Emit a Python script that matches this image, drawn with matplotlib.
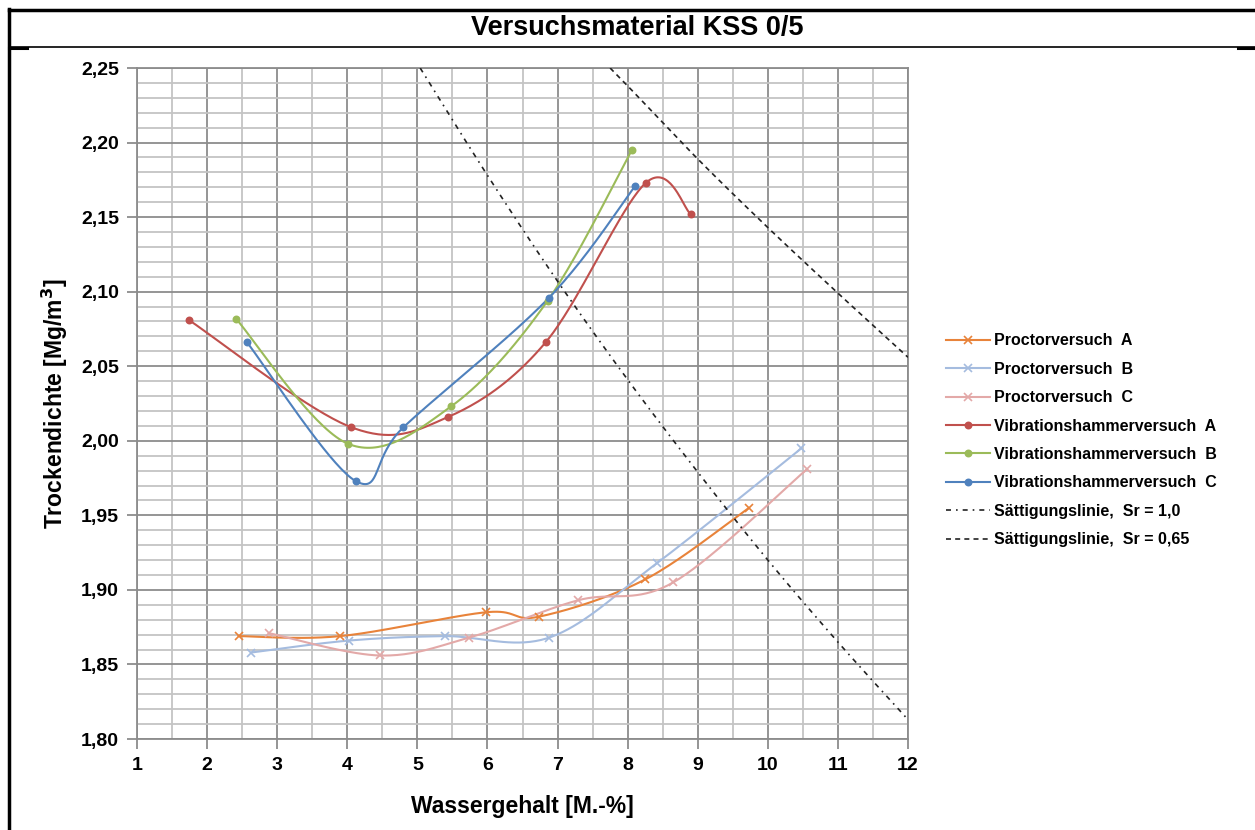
import numpy as np
import matplotlib
matplotlib.use("Agg")
import matplotlib.pyplot as plt
from matplotlib.lines import Line2D
from matplotlib.ticker import MultipleLocator, FuncFormatter

plt.rcParams['font.family'] = ['Liberation Sans', 'DejaVu Sans']
plt.rcParams['font.weight'] = 'bold'

# --- measured data: water content [M.-%] and dry density [Mg/m3] ---
proctor_a_w = [2.45, 3.90, 5.98, 6.73, 8.25, 9.73]
proctor_a_rho = [1.869, 1.869, 1.885, 1.882, 1.907, 1.955]

proctor_b_w = [2.63, 4.02, 5.39, 6.88, 8.42, 10.48]
proctor_b_rho = [1.858, 1.866, 1.869, 1.868, 1.918, 1.995]

proctor_c_w = [2.88, 4.47, 5.74, 7.29, 8.65, 10.56]
proctor_c_rho = [1.871, 1.856, 1.868, 1.893, 1.905, 1.981]

vib_a_w = [1.74, 4.06, 5.44, 6.83, 8.26, 8.90]
vib_a_rho = [2.081, 2.009, 2.016, 2.066, 2.173, 2.152]

vib_b_w = [2.41, 4.01, 5.48, 6.86, 8.06]
vib_b_rho = [2.082, 1.998, 2.023, 2.094, 2.195]

vib_c_w = [2.57, 4.12, 4.80, 6.88, 8.11]
vib_c_rho = [2.066, 1.973, 2.009, 2.096, 2.171]

# saturation lines
sat100_w = [5.04, 6, 7, 8, 9, 10, 11, 12]
sat100_rho = [2.250, 2.178, 2.107, 2.041, 1.979, 1.920, 1.865, 1.813]

sat065_w = [7.75, 8, 9, 10, 11, 12]
sat065_rho = [2.250, 2.238, 2.189, 2.143, 2.099, 2.056]

labels = [
    "Proctorversuch  A", "Proctorversuch  B", "Proctorversuch  C",
    "Vibrationshammerversuch  A", "Vibrationshammerversuch  B",
    "Vibrationshammerversuch  C",
    "Sättigungslinie,  Sr = 1,0", "Sättigungslinie,  Sr = 0,65",
]


def smooth(x, y, n=40):
    """Catmull-Rom style smoothed line through the given points."""
    p = np.column_stack([x, y]).astype(float)
    if len(p) < 3:
        return p[:, 0], p[:, 1]
    ext = np.vstack([p[0], p, p[-1]])
    out = []
    t = np.linspace(0, 1, n)[:, None]
    for i in range(1, len(ext) - 2):
        p0, p1, p2, p3 = ext[i - 1], ext[i], ext[i + 1], ext[i + 2]
        c1 = p1 + (p2 - p0) / 6.0
        c2 = p2 - (p3 - p1) / 6.0
        seg = ((1 - t) ** 3) * p1 + 3 * ((1 - t) ** 2) * t * c1 \
            + 3 * (1 - t) * t ** 2 * c2 + t ** 3 * p2
        out.append(seg if i == 1 else seg[1:])
    s = np.vstack(out)
    return s[:, 0], s[:, 1]


W, H = 1255, 830
fig = plt.figure(figsize=(W / 100, H / 100), dpi=100)
ax = fig.add_axes([137 / W, 1 - 739 / H, (908 - 137) / W, (739 - 68) / H])

ax.set_xlim(1, 12)
ax.set_ylim(1.80, 2.25)

ax.xaxis.set_major_locator(MultipleLocator(1))
ax.xaxis.set_minor_locator(MultipleLocator(0.5))
ax.yaxis.set_major_locator(MultipleLocator(0.05))
ax.yaxis.set_minor_locator(MultipleLocator(0.01))
ax.yaxis.set_major_formatter(FuncFormatter(lambda v, _: f"{v:.2f}".replace('.', ',')))
ax.xaxis.set_major_formatter(FuncFormatter(lambda v, _: f"{v:.0f}"))

ax.grid(which='major', color='#8c8c8c', linewidth=1.3)
ax.grid(which='minor', color='#c4c4c4', linewidth=1.3)
ax.set_axisbelow(True)
for s in ax.spines.values():
    s.set_color('#8c8c8c')
    s.set_linewidth(1.3)
ax.tick_params(which='major', direction='out', length=7, width=1.3, color='#8c8c8c',
               labelsize=14, pad=6)
ax.tick_params(which='minor', length=0)
for lab in ax.get_xticklabels() + ax.get_yticklabels():
    lab.set_fontweight('bold')

series = [
    (proctor_a_w, proctor_a_rho, '#E8833A', 'x', 6),
    (proctor_b_w, proctor_b_rho, '#A5BCDF', 'x', 6),
    (proctor_c_w, proctor_c_rho, '#E3A9A8', 'x', 6),
    (vib_a_w, vib_a_rho, '#C0504D', 'o', 4.5),
    (vib_b_w, vib_b_rho, '#9BBB59', 'o', 4.5),
    (vib_c_w, vib_c_rho, '#4F81BD', 'o', 4.5),
]
handles = []
for (wx, ry, col, mk, ms), lab in zip(series, labels[:6]):
    sx, sy = smooth(wx, ry)
    ax.plot(sx, sy, color=col, linewidth=1.5, zorder=3)
    ax.plot(wx, ry, linestyle='none', marker=mk, color=col, markersize=ms,
            markeredgewidth=1.2, zorder=4)
    handles.append(Line2D([], [], color=col, linewidth=1.5, marker=mk,
                          markersize=ms, markeredgewidth=1.2))

sx, sy = smooth(sat100_w, sat100_rho)
ax.plot(sx, sy, color='#222222', linewidth=1.2, linestyle=(0, (3, 3, 1, 3)), zorder=3)
handles.append(Line2D([], [], color='#222222', linewidth=1.2, linestyle=(0, (3, 3, 1, 3))))
sx, sy = smooth(sat065_w, sat065_rho)
ax.plot(sx, sy, color='#222222', linewidth=1.2, linestyle=(0, (3, 2.5)), zorder=3)
handles.append(Line2D([], [], color='#222222', linewidth=1.2, linestyle=(0, (3, 2.5))))

ax.set_xlabel("Wassergehalt [M.-%]", fontsize=16.5, fontweight='bold', labelpad=15)
ax.set_ylabel("Trockendichte [Mg/m$^\\mathbf{3}$]", fontsize=16.5, fontweight='bold', labelpad=8)

fig.legend(handles, labels, loc='upper left', bbox_to_anchor=(932 / W, 1 - 319 / H),
           frameon=False, handlelength=2.7, handletextpad=0.3,
           labelspacing=0.84, prop={'weight': 'bold', 'size': 11.5})

# title and surrounding frame
fig.text(637 / W, 1 - 28 / H, "Versuchsmaterial KSS 0/5", ha='center', va='center',
         fontsize=19.5, fontweight='bold')
fig.add_artist(Line2D([9 / W, 1], [1 - 10 / H, 1 - 10 / H], color='black', linewidth=2.5,
                      transform=fig.transFigure))
fig.add_artist(Line2D([9 / W, 1], [1 - 47.5 / H, 1 - 47.5 / H], color='black', linewidth=1.2,
                      transform=fig.transFigure))
fig.add_artist(Line2D([9 / W, 27 / W], [1 - 48 / H, 1 - 48 / H], color='black', linewidth=2.2,
                      transform=fig.transFigure))
fig.add_artist(Line2D([1238 / W, 1], [1 - 48 / H, 1 - 48 / H], color='black', linewidth=2.2,
                      transform=fig.transFigure))
fig.add_artist(Line2D([9 / W, 9 / W], [0, 1 - 9 / H], color='black', linewidth=2.5,
                      transform=fig.transFigure))

fig.savefig("out.png", dpi=100)
